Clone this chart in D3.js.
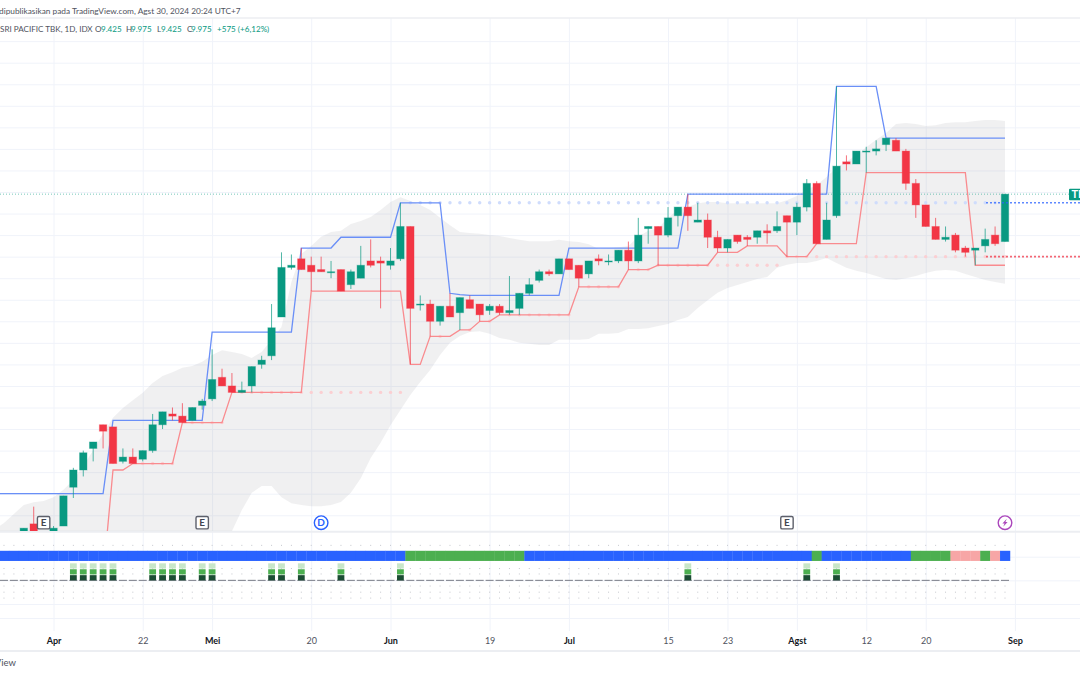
<!DOCTYPE html>
<html>
<head>
	<title>SRI PACIFIC TBK 1D</title>
	<style type="text/css">
		body { margin: 0; background: #fff; overflow: hidden; }
		svg { display: block; font-family: Lato, sans-serif; }
		.grid line { stroke: #f0f3fa; }
		.grid path { display: none; }
		.time text { font-size: 9px; fill: #50535e; font-family: Lato, sans-serif; }
		.time text.month { font-weight: 700; fill: #131722; }
		.time path, .time line { display: none; }
	</style>
	<script src="https://d3js.org/d3.v7.min.js"></script>
</head>
<body>
<script type="text/javascript">
	// bar numbers: 0 is the first candle that shows, 99 is Aug 30. every series starts at bar -3
	var opens = [
		5900,5925,5900,5950,6150,5975,5950,6125,6575,6775,
		7025,7300,7275,6875,6925,6900,7000,7300,7425,7400,
		7350,7525,7600,7850,7750,7675,7750,8000,8100,8550,
		9125,9225,9150,9100,9075,9100,8925,9000,9200,9200,
		9150,9225,9600,8700,8700,8500,8675,8600,8750,8700,
		8625,8675,8600,8650,8825,8975,9075,9050,9225,9150,
		9050,9225,9200,9200,9325,9200,9575,9600,9500,9725,
		9825,9650,9675,9475,9350,9500,9475,9475,9550,9550,
		9725,9650,9825,10100,9450,9725,10350,10325,10475,10475,
		10550,10600,10475,10100,9850,9600,9450,9500,9350,9325,
		9375,9500,9425];
	var highs = [
		5950,5975,5950,6100,6350,6000,6125,6475,6800,7000,
		7100,7300,7275,7025,7025,7000,7425,7450,7500,7550,
		7500,7600,8175,7950,7900,7800,7975,8100,8700,9300,
		9275,9350,9250,9250,9200,9100,9100,9375,9450,9250,
		9350,9875,9600,8800,8750,8675,8825,8775,8800,8700,
		8700,8700,9025,8825,9000,9100,9100,9225,9225,9150,
		9200,9275,9275,9325,9425,9700,9600,9600,9825,9825,
		9975,9875,9750,9550,9450,9500,9500,9550,9625,9775,
		9725,9875,10150,10125,9875,11225,10425,10475,10525,10600,
		10625,10625,10500,10150,9850,9700,9600,9525,9375,9350,
		9575,9600,9975];
	var lows = [
		5850,5875,5875,5925,5950,5900,5925,6125,6450,6700,
		6875,7025,6850,6850,6850,6875,6975,7250,7350,7325,
		7350,7475,7575,7750,7675,7675,7675,7950,8050,8550,
		9100,9100,8850,9075,9000,8850,8875,9000,9125,8650,
		9100,9200,8000,8625,8325,8450,8550,8400,8650,8500,
		8575,8575,8575,8575,8800,8950,9025,9050,9100,8900,
		9000,9150,9150,9175,9100,9175,9400,9150,9475,9600,
		9550,9650,9350,9300,9300,9400,9375,9400,9400,9525,
		9250,9500,9775,9400,9450,9700,10250,10325,10225,10425,
		10475,10475,10025,9700,9600,9450,9425,9300,9250,9150,
		9300,9375,9425];
	var closes = [
		5925,5900,5950,6100,5975,5950,6100,6475,6775,6975,
		7100,7225,6850,6925,6850,7000,7300,7450,7400,7325,
		7500,7575,7825,7750,7675,7700,7975,8050,8425,9125,
		9150,9100,9075,9075,9075,8850,9075,9150,9150,9175,
		9200,9600,8650,8700,8500,8675,8550,8775,8650,8575,
		8675,8600,8625,8825,8925,9075,9050,9225,9100,9000,
		9200,9200,9200,9325,9200,9500,9600,9500,9700,9825,
		9725,9675,9475,9350,9450,9425,9450,9550,9525,9600,
		9650,9825,10100,9400,9675,10300,10325,10475,10475,10500,
		10625,10475,10100,9850,9600,9450,9475,9325,9300,9350,
		9450,9400,9975];

	var resistance = [
		6500,6500,6500,6500,6500,6500,6500,6500,6500,6500,
		6500,6500,7350,7350,7350,7350,7350,7350,7350,7350,
		7350,7350,8375,8375,8375,8375,8375,8375,8375,8375,
		8375,9350,9350,9350,9350,9475,9475,9475,9475,9475,
		9475,9875,9875,9875,9875,9875,8825,8810,8800,8800,
		8800,8800,8800,8800,8800,8800,8800,8800,9350,9350,
		9350,9350,9350,9350,9350,9350,9350,9350,9350,9350,
		9975,9975,9975,9975,9975,9975,9975,9975,9975,9975,
		9975,9975,9975,9975,9975,11225,11225,11225,11225,11225,
		10625,10625,10625,10625,10625,10625,10625,10625,10625,10625,
		10625,10625,10625];
	var support = [
		5525,5525,5525,5525,5525,5525,5525,5525,5525,5525,
		5525,5525,6775,6775,6850,6850,6850,6850,6850,7325,
		7325,7325,7325,7325,7675,7675,7675,7675,7675,7675,
		7675,7675,8850,8850,8850,8850,8850,8850,8850,8850,
		8850,8850,8000,8000,8325,8325,8325,8400,8400,8500,
		8500,8575,8575,8575,8575,8575,8575,8575,8575,8900,
		8900,8900,8900,8900,9100,9100,9100,9150,9150,9150,
		9150,9150,9150,9300,9300,9300,9375,9375,9375,9375,
		9250,9250,9250,9400,9400,9400,9400,9400,10225,10225,
		10225,10225,10225,10225,10225,10225,10225,10225,10225,9150,
		9150,9150,9150];
	var bandUpper = [
		6080,6160,6265,6370,6400,6415,6460,6545,6660,6820,
		7005,7195,7380,7495,7585,7670,7785,7865,7910,7960,
		7980,8030,8110,8165,8145,8120,8075,8145,8285,8435,
		8955,9280,9375,9480,9535,9550,9630,9665,9710,9790,
		9885,9940,9895,9850,9790,9700,9615,9535,9525,9515,
		9500,9490,9465,9445,9430,9430,9430,9445,9430,9420,
		9395,9340,9350,9360,9375,9480,9550,9580,9700,9790,
		9825,9870,9885,9885,9870,9870,9870,9870,9870,9870,
		9905,9955,10025,10080,10175,10280,10350,10430,10520,10605,
		10685,10790,10800,10790,10765,10775,10800,10810,10810,10825,
		10835,10835,10825];
	var bandLower = [
		5600,5600,5600,5600,5600,5600,5600,5600,5600,5600,
		5600,5600,5600,5600,5600,5600,5600,5600,5600,5600,
		5600,5600,5730,5905,6065,6310,6510,6590,6590,6460,
		6390,6370,6355,6355,6370,6405,6510,6680,6915,7090,
		7295,7470,7645,7795,7935,8110,8250,8330,8375,8385,
		8355,8305,8285,8250,8240,8225,8225,8285,8285,8285,
		8295,8355,8355,8365,8410,8410,8420,8445,8470,8515,
		8550,8655,8745,8830,8885,8920,8955,8990,9015,9120,
		9155,9175,9175,9200,9235,9175,9120,9085,9060,9025,
		8990,8980,9000,9025,9060,9085,9095,9085,9050,9015,
		8980,8955,8935];
	var pivotLow = [
		null,null,null,null,null,null,null,null,null,null,
		null,null,null,null,null,6850,6850,6850,6850,null,
		7325,7325,7325,7325,null,7675,7675,7675,7675,7675,
		7675,7675,7675,7675,7675,7675,7675,7675,7675,7675,
		7675,7675,null,null,null,8325,null,null,8400,null,
		8500,null,8575,8575,8575,8575,8575,8575,8575,null,
		8900,8900,8900,8900,null,9100,9100,9150,9150,9150,
		9150,9150,9150,9150,9150,9150,9150,9150,9150,9150,
		9250,9250,9250,9250,9250,9250,9250,9250,9250,9250,
		9250,9250,9250,9250,9250,9250,9250,9250,9250,9250,
		9250,9250,9250];
	var pivotHighBars = [39,40,41,42,43,44,45,46,47,48,49,50,51,52,53,54,55,56,57,58,59,60,61,62,63,64,65,66,67,68,69,70,
		71,72,73,74,75,76,77,78,79,80,81,82,83,84,85,86,87,88,89,90,91,92,93,94,95,96,97,98,99];
	var pivotHigh = 9875;
	var lastClose = 9975;
	var pivotLowLast = 9250;

	// bottom pane
	var stateNames = ["blue","green","blue","green","blue","green","pink","green","pink","blue"];
	var stateLengths = [42,12,29,1,9,4,3,1,1,1];
	var signalBars = [5,6,7,8,9,13,14,15,16,18,19,25,26,28,32,38,67,79,82];

	var tickLabels = ["Apr","22","Mei","20","Jun","19","Jul","15","23","Agst","12","20","Sep"];
	var tickBars = [3,12,19,29,37,47,55,65,71,78,85,91,100];
	var monthLabels = ["Apr","Mei","Jun","Jul","Agst","Sep"];
	var eventBars = [2,18,30,77,99];
	var eventLabels = ["E","E","D","E","lightning"];
	var gridPrices = [6000,6250,6500,6750,7000,7250,7500,7750,8000,8250,8500,8750,9000,9250,9500,9750,10000,10250,10500,10750,11000,11250,11500,11750];

	var up = "#089981", down = "#f23645";
	var width = 1080, height = 675;
	var paneTop = 18, paneBottom = 531, gridBottom = 631, axisLine = 651;

	var svg = d3.select("body").append("svg")
		.attr("width", width)
		.attr("height", height);

	var x = d3.scaleLinear().domain([0, 99]).range([23.8, 1005]);
	var y = d3.scaleLinear().domain([5000, 10000]).range([623, 192]);
	var ySub = d3.scaleLinear().domain([-1, 1]).range([604, 556.7]);
	var step = x(1) - x(0);

	var bars = opens.map(function(o, i) {
		return {bar: i - 3, o: o, h: highs[i], l: lows[i], c: closes[i],
			res: resistance[i], sup: support[i], top: bandUpper[i], bottom: bandLower[i], pivot: pivotLow[i]};
	});

	svg.append("defs").append("clipPath").attr("id", "pane")
		.append("rect").attr("x", 0).attr("y", paneTop).attr("width", width).attr("height", paneBottom - paneTop);

	// grids
	svg.append("g").attr("class", "grid")
		.attr("transform", "translate(0," + gridBottom + ")")
		.call(d3.axisBottom(x).tickValues(tickBars).tickSize(-(gridBottom - paneTop)).tickFormat(""));

	var grid = svg.append("g").attr("clip-path", "url(#pane)");
	grid.append("g").attr("class", "grid")
		.call(d3.axisRight(y).tickValues(gridPrices).tickSize(width).tickFormat(""));

	svg.append("g").attr("class", "grid")
		.call(d3.axisRight(ySub).tickValues([1, 0, -1, -1.59]).tickSize(width).tickFormat(""));

	// rules round the panes
	[[paneTop, 1.5], [paneBottom + 0.7, 2], [axisLine, 2]].forEach(function(r) {
		svg.append("line").attr("x1", 0).attr("x2", width).attr("y1", r[0]).attr("y2", r[0])
			.attr("stroke", "#eceef2").attr("stroke-width", r[1]);
	});

	var pane = svg.append("g").attr("clip-path", "url(#pane)");

	pane.append("path").datum(bars)
		.attr("fill", "#787b86").attr("fill-opacity", 0.115)
		.attr("d", d3.area()
			.x(function(d) { return x(d.bar); })
			.y0(function(d) { return y(d.bottom); })
			.y1(function(d) { return y(d.top); }));

	// light dots for the pivots
	pane.append("g").selectAll("circle").data(pivotHighBars).join("circle")
		.attr("cx", function(d) { return x(d); })
		.attr("cy", y(pivotHigh))
		.attr("r", 1.7)
		.attr("fill", "#cfdcfc");
	pane.append("g").selectAll("circle").data(bars.filter(function(d) { return d.pivot !== null; })).join("circle")
		.attr("cx", function(d) { return x(d.bar); })
		.attr("cy", function(d) { return y(d.pivot); })
		.attr("r", 1.7)
		.attr("fill", "#fbcfd2");

	pane.append("line").attr("x1", 0).attr("x2", 1069).attr("y1", y(lastClose)).attr("y2", y(lastClose))
		.attr("stroke", up).attr("stroke-opacity", 0.55).attr("stroke-dasharray", "1,2");

	pane.append("path").datum(bars)
		.attr("fill", "none").attr("stroke", "#6a8ff7").attr("stroke-width", 1.3)
		.attr("d", d3.line().x(function(d) { return x(d.bar); }).y(function(d) { return y(d.res); }));
	pane.append("path").datum(bars)
		.attr("fill", "none").attr("stroke", "#f98b8f").attr("stroke-width", 1.3)
		.attr("d", d3.line().x(function(d) { return x(d.bar); }).y(function(d) { return y(d.sup); }));

	// candles
	var candle = pane.append("g").selectAll("g").data(bars).join("g")
		.attr("fill", function(d) { return d.c >= d.o ? up : down; })
		.attr("stroke", function(d) { return d.c >= d.o ? up : down; });
	candle.append("line")
		.attr("x1", function(d) { return x(d.bar); })
		.attr("x2", function(d) { return x(d.bar); })
		.attr("y1", function(d) { return y(d.h); })
		.attr("y2", function(d) { return y(d.l); })
		.attr("stroke-opacity", 0.7);
	candle.append("rect")
		.attr("x", function(d) { return x(d.bar) - 3.7; })
		.attr("width", 7.4)
		.attr("y", function(d) { return y(Math.max(d.o, d.c)); })
		.attr("height", function(d) { return Math.max(1, y(Math.min(d.o, d.c)) - y(Math.max(d.o, d.c))); })
		.attr("stroke-opacity", 0.35);

	// levels running off the right edge
	[[pivotHigh, "#2962ff"], [pivotLowLast, "#f23645"]].forEach(function(l) {
		svg.append("line").attr("x1", 986).attr("x2", width).attr("y1", y(l[0])).attr("y2", y(l[0]))
			.attr("stroke", l[1]).attr("stroke-width", 1.6).attr("stroke-opacity", 0.75).attr("stroke-dasharray", "2,2");
	});
	svg.append("rect").attr("x", 1069).attr("y", y(lastClose) - 5.5).attr("width", 14).attr("height", 11.5).attr("rx", 1).attr("fill", up);
	svg.append("text").attr("x", 1071.5).attr("y", y(lastClose) + 4)
		.attr("fill", "#fff").attr("font-size", 11).attr("font-weight", 700).text("TR");

	// event markers
	var marker = svg.append("g").selectAll("g").data(eventBars).join("g")
		.attr("transform", function(d) { return "translate(" + x(d) + ",522.7)"; });
	marker.each(function(d, i) {
		var g = d3.select(this), label = eventLabels[i];
		if (label === "E") {
			g.append("rect").attr("x", -6.2).attr("y", -6.2).attr("width", 12.4).attr("height", 12.4).attr("rx", 1.5)
				.attr("fill", "#fff").attr("stroke", "#5d606b").attr("stroke-width", 1.4);
			g.append("text").attr("text-anchor", "middle").attr("y", 3.6).attr("font-size", 10).attr("font-weight", 700)
				.attr("fill", "#434651").text(label);
		} else if (label === "D") {
			g.append("circle").attr("r", 6.8).attr("fill", "#fff").attr("stroke", "#2962ff").attr("stroke-width", 1.4);
			g.append("text").attr("text-anchor", "middle").attr("y", 3.6).attr("font-size", 10).attr("font-weight", 700)
				.attr("fill", "#2962ff").text(label);
		} else {
			g.append("circle").attr("r", 6.8).attr("fill", "#fff").attr("stroke", "#ab47bc").attr("stroke-width", 1.4);
			g.append("path").attr("d", "M1.8,-4 L-2.6,0.8 L-0.4,0.8 L-1.8,4 L2.6,-0.8 L0.4,-0.8 Z").attr("fill", "#ab47bc");
		}
	});

	// bottom pane: dotted rows, state strip, signal stacks, zero dashes
	var columns = bars.map(function(d) { return d.bar; });
	[1.48, 0.5, 0.27, -0.24, -0.5, -0.75].forEach(function(level) {
		svg.append("g").selectAll("rect").data(columns.filter(function(b) { return x(b) > 0; })).join("rect")
			.attr("x", function(b) { return x(b) - 0.5; })
			.attr("y", ySub(level) - 0.5)
			.attr("width", 1).attr("height", 1)
			.attr("fill", "#c4c6cc");
	});

	var stateColor = {blue: "#2962ff", green: "#4caf50", pink: "#f7a6a6"};
	var stateBars = [];
	stateLengths.forEach(function(n, s) {
		d3.range(n).forEach(function() { stateBars.push({bar: stateBars.length - 3, name: stateNames[s]}); });
	});
	svg.append("g").selectAll("rect").data(stateBars).join("rect")
		.attr("x", function(d) { return x(d.bar) - step / 2; })
		.attr("y", ySub(1.25))
		.attr("width", step + 0.3)
		.attr("height", ySub(0.82) - ySub(1.25))
		.attr("fill", function(d) { return stateColor[d.name]; });

	svg.append("g").selectAll("line").data(columns).join("line")
		.attr("x1", function(b) { return x(b) - 4; })
		.attr("x2", function(b) { return x(b) + 4; })
		.attr("y1", ySub(0)).attr("y2", ySub(0))
		.attr("stroke", "#787b86").attr("stroke-width", 1);

	[[0, 0.22, "#1b4d33"], [0.25, 0.47, "#4caf50"], [0.5, 0.72, "#c8e6c9"]].forEach(function(s) {
		svg.append("g").selectAll("rect").data(signalBars).join("rect")
			.attr("x", function(b) { return x(b) - 3.4; })
			.attr("y", ySub(s[1]))
			.attr("width", 6.8)
			.attr("height", ySub(s[0]) - ySub(s[1]))
			.attr("fill", s[2]);
	});

	// time axis
	svg.append("g").attr("class", "time")
		.attr("transform", "translate(0," + (gridBottom - 2) + ")")
		.call(d3.axisBottom(x).tickValues(tickBars).tickSize(0).tickPadding(9)
			.tickFormat(function(d) { return tickLabels[tickBars.indexOf(d)]; }))
		.selectAll("text")
		.attr("class", function() { return monthLabels.indexOf(d3.select(this).text()) >= 0 ? "month" : null; });

	// header and footer text
	svg.append("text").attr("x", -1).attr("y", 13.5).attr("font-size", 8.3).attr("fill", "#50535e")
		.text("dipublikasikan pada TradingView.com, Agst 30, 2024 20:24 UTC+7");
	svg.append("text").attr("x", 16).attr("y", 666).attr("text-anchor", "end").attr("font-size", 9.5).attr("fill", "#50535e")
		.text("TradingView");

	var legend = svg.append("text").attr("x", 0).attr("y", 32).attr("font-size", 8.1);
	[["SRI PACIFIC TBK, 1D, IDX", "#50535e", 0], ["O", "#50535e", 95], ["9.425", up, 101], ["H", "#50535e", 126], ["9.975", up, 131],
		["L", "#50535e", 157], ["9.425", up, 161], ["C", "#50535e", 187], ["9.975", up, 191], ["+575 (+6,12%)", up, 217]].forEach(function(t) {
		legend.append("tspan").attr("x", t[2]).attr("fill", t[1]).text(t[0]);
	});
</script>
</body>
</html>
